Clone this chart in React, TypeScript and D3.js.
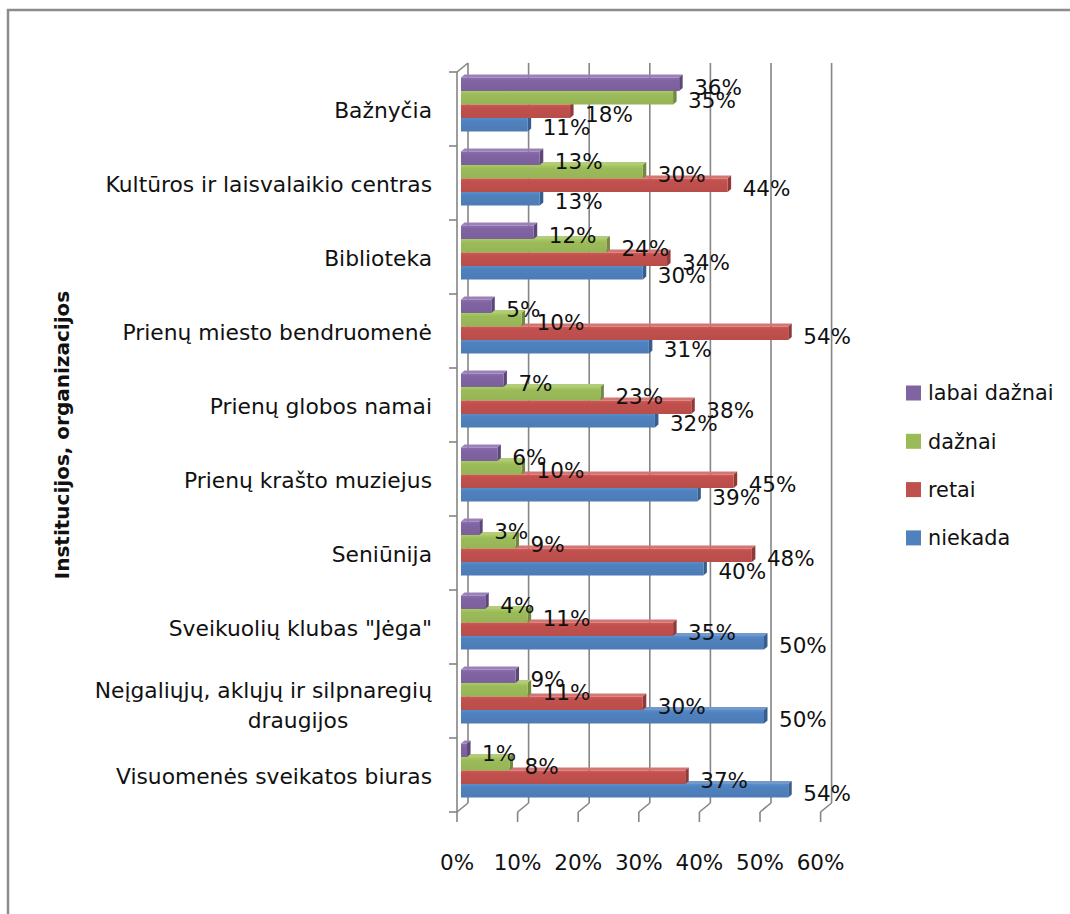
import React from 'react';
import * as d3 from 'd3';

const categories = [
  'Bažnyčia',
  'Kultūros ir laisvalaikio centras',
  'Biblioteka',
  'Prienų miesto bendruomenė',
  'Prienų globos namai',
  'Prienų krašto muziejus',
  'Seniūnija',
  'Sveikuolių klubas "Jėga"',
  'Neįgaliųjų, aklųjų ir silpnaregių\ndraugijos',
  'Visuomenės sveikatos biuras',
];
const seriesNames = ['labai dažnai', 'dažnai', 'retai', 'niekada'];
const labaiDaznai = [36, 13, 12, 5, 7, 6, 3, 4, 9, 1];
const daznai = [35, 30, 24, 10, 23, 10, 9, 11, 11, 8];
const retai = [18, 44, 34, 54, 38, 45, 48, 35, 30, 37];
const niekada = [11, 13, 30, 31, 32, 39, 40, 50, 50, 54];
const xTicks = [0, 10, 20, 30, 40, 50, 60];
const axisTitle = 'Institucijos, organizacijos';

const seriesValues = [labaiDaznai, daznai, retai, niekada];
const frontColors = ['#8064A2', '#9BBB59', '#C0504D', '#4F81BD'];
const sideColors = ['#5C4778', '#728A3F', '#8F3A38', '#385E8D'];
const topColors = ['#9A82B8', '#B2CC7C', '#D07774', '#7399CB'];

const FONT = '"DejaVu Sans", sans-serif';

export default function App() {
  const W = 1070;
  const H = 914;
  const frontX0 = 457;
  const plotTop = 72;
  const plotBottom = 812;
  const depth = { dx: 11, dy: -9 };
  const barX0 = 461;
  const barShiftY = -4.5;
  const bd = { dx: 3.5, dy: -3 };
  const grid = '#858585';

  const x = d3.scaleLinear().domain([0, 60]).range([0, 363.6]);
  const y = d3.scaleBand().domain(categories).range([plotTop, plotBottom]);
  const s = d3.scaleBand().domain(seriesNames).range([-27, 27]);
  const bh = s.bandwidth();

  const bars: any[] = [];
  const labels: any[] = [];
  categories.forEach((cat, ci) => {
    const cy = (y(cat) as number) + y.bandwidth() / 2 + barShiftY;
    for (let j = seriesNames.length - 1; j >= 0; j--) {
      const v = seriesValues[j][ci];
      const y0 = cy + (s(seriesNames[j]) as number);
      const x1 = barX0 + x(v);
      bars.push(
        <g key={`b-${ci}-${j}`}>
          <polygon
            points={`${barX0},${y0} ${x1},${y0} ${x1 + bd.dx},${y0 + bd.dy} ${barX0 + bd.dx},${y0 + bd.dy}`}
            fill={topColors[j]}
          />
          <polygon
            points={`${x1},${y0} ${x1 + bd.dx},${y0 + bd.dy} ${x1 + bd.dx},${y0 + bh + bd.dy} ${x1},${y0 + bh}`}
            fill={sideColors[j]}
          />
          <rect x={barX0} y={y0} width={x(v)} height={bh} fill={`url(#grad${j})`} />
        </g>
      );
      labels.push(
        <text
          key={`l-${ci}-${j}`}
          x={x1 + 15}
          y={y0 + bh / 2 + 3}
          dy="0.36em"
          fontFamily={FONT}
          fontSize={21.5}
          fill="#111"
        >
          {v}%
        </text>
      );
    }
  });

  return (
    <svg
      width={W}
      height={H}
      style={{ position: 'absolute', left: 0, top: 0, background: '#fff' }}
    >
      <defs>
        {frontColors.map((c, j) => (
          <linearGradient key={j} id={`grad${j}`} x1="0" y1="0" x2="0" y2="1">
            <stop offset="0" stopColor={d3.color(c)!.brighter(0.25).formatHex()} />
            <stop offset="0.25" stopColor={c} />
            <stop offset="1" stopColor={d3.color(c)!.darker(0.1).formatHex()} />
          </linearGradient>
        ))}
      </defs>
      <rect x={0} y={0} width={W} height={H} fill="#fff" />
      {/* outer chart border */}
      <rect x={8} y={10} width={W + 20} height={H + 20} fill="none" stroke="#8c8c8c" strokeWidth={2.5} />

      {/* back wall gridlines */}
      {xTicks.map((t) => (
        <g key={`g-${t}`}>
          <line
            x1={frontX0 + depth.dx + x(t)}
            x2={frontX0 + depth.dx + x(t)}
            y1={plotTop + depth.dy}
            y2={plotBottom + depth.dy}
            stroke={grid}
            strokeWidth={1.6}
          />
          <line
            x1={frontX0 + x(t)}
            y1={plotBottom}
            x2={frontX0 + depth.dx + x(t)}
            y2={plotBottom + depth.dy}
            stroke={grid}
            strokeWidth={1.6}
          />
          <line
            x1={frontX0 + x(t)}
            x2={frontX0 + x(t)}
            y1={plotBottom}
            y2={plotBottom + 10}
            stroke={grid}
            strokeWidth={1.6}
          />
          <text
            x={frontX0 + x(t)}
            y={862}
            dy="0.36em"
            textAnchor="middle"
            fontFamily={FONT}
            fontSize={21.5}
            fill="#111"
          >
            {t}%
          </text>
        </g>
      ))}

      {/* category axis */}
      <line x1={frontX0} x2={frontX0} y1={plotTop} y2={plotBottom} stroke={grid} strokeWidth={1.6} />
      <line
        x1={frontX0}
        y1={plotTop}
        x2={frontX0 + depth.dx}
        y2={plotTop + depth.dy}
        stroke={grid}
        strokeWidth={1.6}
      />
      {[...categories.map((c) => y(c) as number), plotBottom].map((ty, i) => (
        <line key={`t-${i}`} x1={frontX0 - 8} x2={frontX0} y1={ty} y2={ty} stroke={grid} strokeWidth={1.6} />
      ))}
      {categories.map((c) => {
        const cy = (y(c) as number) + y.bandwidth() / 2;
        const lines = c.split('\n');
        if (lines.length === 1) {
          return (
            <text
              key={`c-${c}`}
              x={432}
              y={cy + 1}
              dy="0.36em"
              textAnchor="end"
              fontFamily={FONT}
              fontSize={21.8}
              fill="#111"
            >
              {c}
            </text>
          );
        }
        return (
          <g key={`c-${c}`}>
            <text x={432} y={cy - 11} dy="0.36em" textAnchor="end" fontFamily={FONT} fontSize={21.8} fill="#111">
              {lines[0]}
            </text>
            <text x={298} y={cy + 19} dy="0.36em" textAnchor="middle" fontFamily={FONT} fontSize={21.8} fill="#111">
              {lines[1]}
            </text>
          </g>
        );
      })}

      {bars}
      {labels}

      {/* axis title */}
      <text
        transform="translate(62,435) rotate(-90)"
        dy="0.36em"
        textAnchor="middle"
        fontFamily={FONT}
        fontWeight="bold"
        fontSize={20}
        fill="#111"
      >
        {axisTitle}
      </text>

      {/* legend */}
      {seriesNames.map((n, j) => {
        const ly = 393 + j * 48.3;
        return (
          <g key={`lg-${n}`}>
            <rect x={906} y={ly - 7.5} width={15} height={15} fill={frontColors[j]} />
            <text x={928} y={ly} dy="0.36em" fontFamily={FONT} fontSize={20.8} fill="#111">
              {n}
            </text>
          </g>
        );
      })}
    </svg>
  );
}
